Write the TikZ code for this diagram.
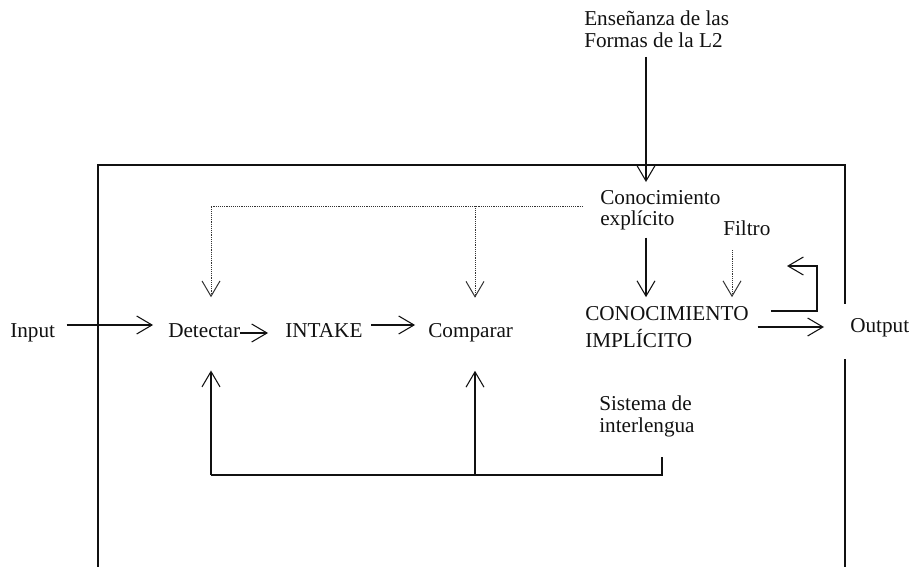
\documentclass[tikz,border=0pt]{standalone}
\usepackage{fontspec}
\setmainfont{Liberation Serif}
\usetikzlibrary{arrows.meta, calc}
\definecolor{ink}{HTML}{111111}
\definecolor{dotgray}{HTML}{333333}

\begin{document}
\begin{tikzpicture}[x=0.75pt, y=-0.75pt,
  >={Straight Barb[length=11.5pt, width=13.5pt]},
  label/.style={inner sep=0pt, text=ink, font=\fontsize{15.9}{15.8}\selectfont},
  twoline/.style={label, align=left, anchor=north west},
  arr/.style={ink, line width=0.8pt, ->},
  plain/.style={ink, line width=0.8pt},
  dotarr/.style={dotgray, line width=0.75pt, dash pattern=on 0.7pt off 0.7pt, ->},
  frame/.style={ink, line width=1.1pt}]

% Canvas (pixel units, y downwards)
\useasboundingbox (0,0) rectangle (913,567);

% Outer frame (open at the bottom and at Output)
\draw[frame] (98,567) -- (98,165) -- (845,165) -- (845,304);
\draw[frame] (845,359) -- (845,567);

% Labels
\node[twoline] (ensen) at (584,11) {Enseñanza de las\\Formas de la L2};
\node[twoline] (conexp) at (600,190) {Conocimiento\\explícito};
\node[label, anchor=base west] (filtro) at (723,235) {Filtro};
\node[twoline] (conimp) at (585,306.5) {CONOCIMIENTO\\[4pt]IMPLÍCITO};
\node[label, anchor=base west] (input) at (10,337) {Input};
\node[label, anchor=base west] (detectar) at (168,337) {Detectar};
\node[label, anchor=base west] (intake) at (285,337) {INTAKE};
\node[label, anchor=base west] (comparar) at (428,337) {Comparar};
\node[label, anchor=base west] (output) at (850,332) {Output};
\node[twoline] (sistema) at (599,396) {Sistema de\\interlengua};

% Helper coordinates
\coordinate (xexp) at (646,0);
\coordinate (xfil) at (732,0);
\coordinate (row) at (0,325);
\coordinate (rowlow) at (0,333);
\coordinate (outrow) at (0,327);
\coordinate (busL) at (211,475);
\coordinate (busM) at (475,475);
\coordinate (busR) at (662,475);
\coordinate (loop) at (817,266);
\coordinate (bus) at ([yshift=2.9pt]conexp.west);

% Teaching -> explicit -> implicit
\draw[arr, shorten <=7pt, shorten >=6pt] (ensen.south -| xexp) -- (conexp.north -| xexp);
\draw[arr, shorten <=5.6pt, shorten >=7pt] (conexp.south -| xexp) -- (conimp.north -| xexp);
\draw[dotarr, shorten <=11pt, shorten >=7pt] (filtro.south -| xfil) -- (conimp.north -| xfil);

% Dotted influence of explicit knowledge
\draw[dotarr, shorten <=12.7pt] (bus) -| ($(detectar.north -| busL)+(0,-25.6)$);
\draw[dotarr] (bus -| busM) -- ($(comparar.north -| busM)+(0,-25)$);

% Main row
\draw[arr, shorten <=8.5pt, shorten >=11.2pt] (input.east |- row) -- (detectar.west |- row);
\draw[arr, shorten >=12.7pt] (detectar.east |- rowlow) -- (intake.west |- rowlow);
\draw[arr, shorten <=6.5pt, shorten >=9.7pt] (intake.east |- row) -- (comparar.west |- row);
\draw[arr, shorten <=6.5pt, shorten >=19.5pt] (conimp.east |- outrow) -- (output.west |- outrow);

% Feedback loop
\draw[arr] ($(conimp.north east)+(22,4.5)$) -| (loop) -- ++(-30,0);

% Interlanguage system
\draw[plain] ($(sistema.south -| busR)+(0,20.5)$) -- (busR) -- (busL);
\draw[arr] (busL) -- ($(detectar.south -| busL)+(0,33)$);
\draw[arr] (busM) -- ($(comparar.south -| busM)+(0,29)$);

\end{tikzpicture}
\end{document}
